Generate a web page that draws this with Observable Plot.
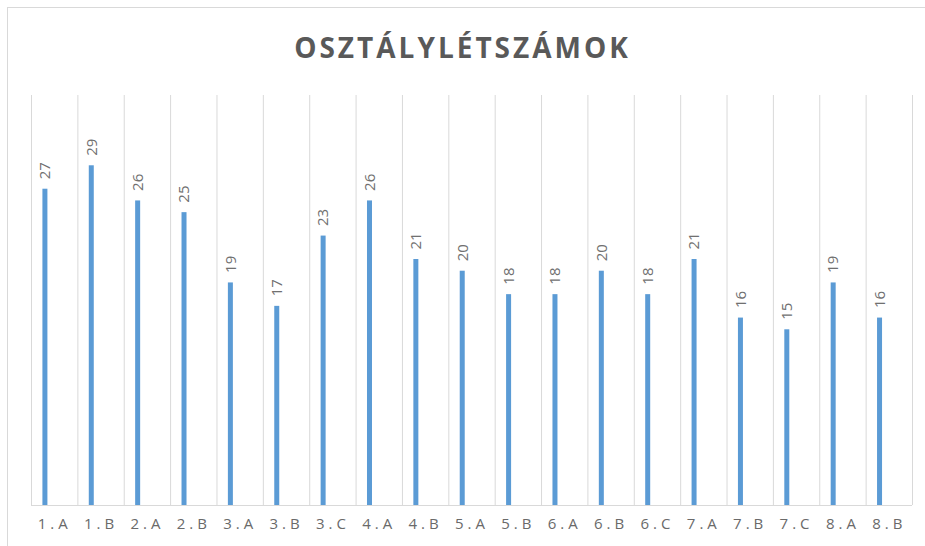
<!DOCTYPE html>
<html><head><meta charset="utf-8">
<script src="https://cdn.jsdelivr.net/npm/d3@7"></script>
<script src="https://cdn.jsdelivr.net/npm/@observablehq/plot@0.6"></script>
<style>
body{margin:0;background:#fff;width:925px;height:546px;overflow:hidden;position:relative;font-family:"Open Sans",sans-serif;}
#frame{position:absolute;left:7px;top:7px;width:940px;height:560px;border:1px solid #d9d9d9;box-sizing:border-box;}
#title{position:absolute;left:0;top:27px;width:925px;text-align:center;font-size:28px;font-weight:700;letter-spacing:3px;color:#595959;line-height:40px;}
#chart{position:absolute;left:0;top:90px;}
</style></head><body>
<div id="frame"></div>
<div id="title">OSZTÁLYLÉTSZÁMOK</div>
<div id="chart"></div>
<script>
const classes = ["1.A","1.B","2.A","2.B","3.A","3.B","3.C","4.A","4.B","5.A","5.B","6.A","6.B","6.C","7.A","7.B","7.C","8.A","8.B"];
const counts = [27,29,26,25,19,17,23,26,21,20,18,18,20,18,21,16,15,19,16];
const data = classes.map((c,i)=>({cls:c, n:counts[i]}));

const W = 925, H = 456, ML = 31, MR = 13;
const bw = (W - ML - MR) / classes.length;
const barW = 5;
const inL = 0.3*bw - barW/2, inR = bw - inL - barW;
const off = 0.3*bw - bw/2;

const chart = Plot.plot({
  width: W, height: H,
  marginLeft: ML, marginRight: MR, marginTop: 5, marginBottom: 41,
  style: {fontFamily: "Open Sans, sans-serif", background: "transparent"},
  x: {domain: classes, padding: 0, round: false, label: null, tickSize: 0, tickPadding: 13},
  y: {domain: [0, 35], axis: null},
  marks: [
    Plot.ruleX(classes, {x: d=>d, dx: -bw/2, y1: 0, y2: 35, stroke: "#d9d9d9", strokeWidth: 1}),
    Plot.ruleX([classes[classes.length-1]], {x: d=>d, dx: bw/2, y1: 0, y2: 35, stroke: "#d9d9d9", strokeWidth: 1}),
    Plot.ruleY([0], {stroke: "#d9d9d9"}),
    Plot.barY(data, {x: "cls", y: "n", fill: "#5b9bd5", insetLeft: inL, insetRight: inR}),
    Plot.text(data, {x: "cls", y: "n", text: d=>String(d.n), rotate: -90, textAnchor: "start", lineAnchor: "middle", dx: off, dy: -10, fill: "#707070", fontSize: 15, letterSpacing: 1.5})
  ]
});
chart.querySelectorAll("g[aria-label='x-axis tick label'] text, g[aria-label='x-axis'] text").forEach(t=>{
  t.style.fontSize="15px"; t.style.letterSpacing="4px"; t.setAttribute("fill","#6a6a6a");
});
document.getElementById("chart").append(chart);
</script>
</body></html>
